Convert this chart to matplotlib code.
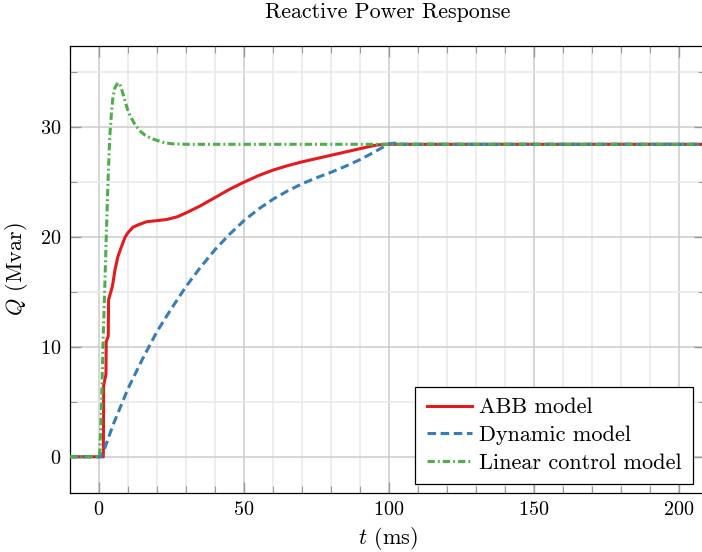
import matplotlib
matplotlib.use("Agg")
import matplotlib.pyplot as plt
from matplotlib.ticker import MultipleLocator

plt.rcParams['font.family'] = 'serif'
plt.rcParams['font.serif'] = ['cmr10']
plt.rcParams['mathtext.fontset'] = 'cm'
plt.rcParams['axes.formatter.use_mathtext'] = True
plt.rcParams['font.size'] = 14.5

# ABB model (stepped measurement)
abb_t = [-10, 1.5, 1.6, 2.4, 2.5, 3.2, 3.3, 4.6, 4.8, 5.5, 6.5, 7.7, 9, 10, 11.7,
         13.4, 16.4, 20, 23.3, 27, 30, 35, 40, 45, 50, 55, 60, 65, 70, 75, 80,
         85, 90, 95, 98, 210]
abb_q = [0, 0, 6.5, 7.5, 10.5, 11.0, 14.3, 15.5, 15.8, 17.0, 18.2, 19.1, 20.0,
         20.4, 20.9, 21.1, 21.4, 21.5, 21.6, 21.85, 22.2, 22.85, 23.6, 24.35, 25.0,
         25.6, 26.1, 26.5, 26.85, 27.15, 27.45, 27.75, 28.05, 28.35, 28.45, 28.45]

# Dynamic model
dyn_t = [-10, 0.6, 2, 5, 10, 15, 20, 25, 30, 35, 40, 45, 50, 55, 60, 65, 70, 75,
         80, 85, 90, 95, 100, 102, 105, 210]
dyn_q = [0, 0, 0.8, 3.0, 6.2, 8.9, 11.4, 13.5, 15.5, 17.25, 18.85, 20.25, 21.5,
         22.55, 23.45, 24.2, 24.85, 25.4, 25.9, 26.45, 27.05, 27.75, 28.5, 28.55,
         28.45, 28.45]

# Linear control model
lin_t = [-10, 0.2, 0.8, 1.4, 2, 2.5, 3.1, 3.7, 4.3, 4.8, 5.5, 6.5, 7.2, 8, 8.9,
         10, 11, 12.3, 14, 16, 18, 20, 22.5, 25, 30, 210]
lin_q = [0, 0, 4.0, 10.4, 15.5, 20.0, 25.0, 29.1, 31.3, 32.75, 33.6, 34.05, 33.9,
         33.3, 32.45, 31.5, 30.9, 30.3, 29.7, 29.25, 29.0, 28.8, 28.6, 28.5,
         28.45, 28.45]

fig = plt.figure(figsize=(7.02, 5.52), dpi=100)
ax = fig.add_axes([70 / 702, 59 / 552, 635 / 702, 447 / 552])

lw = 2.2
ax.plot(abb_t, abb_q, color='#e41a1c', lw=lw, label='ABB model', zorder=3)
ax.plot(dyn_t, dyn_q, color='#377eb8', lw=lw, dashes=(2.8, 1.5),
        label='Dynamic model', zorder=3)
ax.plot(lin_t, lin_q, color='#4daf4a', lw=lw, dashes=(2.4, 1.0, 0.6, 1.0),
        label='Linear control model', zorder=3)

ax.set_xlim(-10, 209)
ax.set_ylim(-3.3, 37.4)
ax.xaxis.set_major_locator(MultipleLocator(50))
ax.xaxis.set_minor_locator(MultipleLocator(10))
ax.yaxis.set_major_locator(MultipleLocator(10))
ax.yaxis.set_minor_locator(MultipleLocator(5))

ax.grid(which='major', color='#cccccc', lw=1.1)
ax.grid(which='minor', color='#e8e8e8', lw=1.1)
ax.set_axisbelow(True)

ax.tick_params(which='both', direction='in', top=True, right=True, color='#999999')
ax.tick_params(which='major', length=8, width=1.0, pad=6)
ax.tick_params(which='minor', length=5, width=0.8)
for s in ax.spines.values():
    s.set_linewidth(0.9)

ax.set_xlabel(r'$t$ (ms)', fontsize=16)
ax.set_ylabel(r'$Q$ (Mvar)', fontsize=16)
ax.xaxis.set_label_coords(0.5, -0.072)
ax.yaxis.set_label_coords(-0.063, 0.5)
ax.set_title('Reactive Power Response', fontsize=15.8, pad=20)

leg = ax.legend(loc='lower right', bbox_to_anchor=(0.981, 0.02), fancybox=False,
                framealpha=1, edgecolor='black', handlelength=2.05,
                handletextpad=0.32, labelspacing=0.37, borderpad=0.5,
                borderaxespad=0, fontsize=16)
leg.get_frame().set_linewidth(0.9)

fig.savefig('out.png', dpi=100)
